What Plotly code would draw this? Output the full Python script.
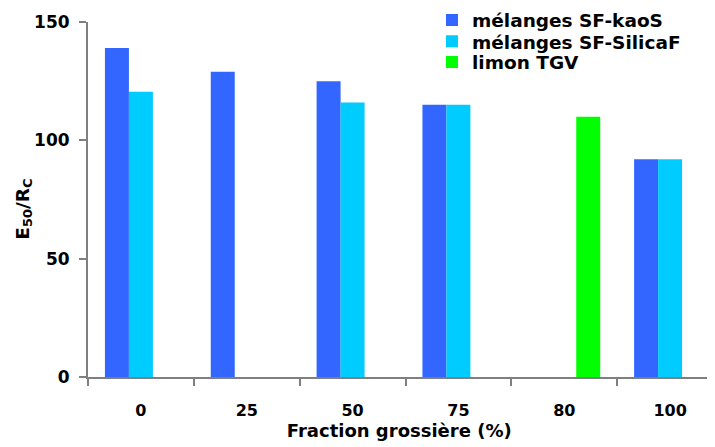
import plotly.graph_objects as go

categories = ["0", "25", "50", "75", "80", "100"]
kaos_values = [139, 129, 125, 115, None, 92]
silicaf_values = [120.5, None, 116, 115, None, 92]
tgv_values = [None, None, None, None, 110, None]
y_ticks = [0, 50, 100, 150]

FONT = "DejaVu Sans"
AXIS_COLOR = "#7f7f7f"
LEG_FONT = dict(family=FONT, size=18.5, color="black", weight="bold")
NB = "\u00a0"
ZW = "\u200b"

fig = go.Figure()
fig.add_trace(go.Bar(x=categories, y=kaos_values, name="mélanges SF-kaoS",
                     marker=dict(color="#3366FF", line=dict(width=0)), legend="legend"))
fig.add_trace(go.Bar(x=categories, y=silicaf_values, name="mélanges SF-SilicaF",
                     marker=dict(color="#00CCFF", line=dict(width=0)), legend="legend2"))
fig.add_trace(go.Bar(x=categories, y=tgv_values, name="limon TGV",
                     marker=dict(color="#00FF00", line=dict(width=0)), legend="legend3"))

# page body adds an 8px offset; plot area: x 88..723, y 22..377 on screen
def leg(yc):
    return dict(x=0.5417, y=(377 - yc) / 355, xanchor="left", yanchor="middle",
                font=LEG_FONT, bgcolor="rgba(0,0,0,0)", itemwidth=30)

fig.update_layout(
    width=715, height=447,
    margin=dict(l=80, r=0, t=14, b=78, autoexpand=False),
    paper_bgcolor="white", plot_bgcolor="white",
    barmode="group", bargap=0.32, bargroupgap=0,
    font=dict(family=FONT, color="black", size=17),
    showlegend=True,
    legend=leg(20.5), legend2=leg(41.8), legend3=leg(62.5),
)
fig.update_xaxes(
    type="category", categoryorder="array", categoryarray=categories,
    range=[-0.5, 5.5],
    showline=True, linecolor=AXIS_COLOR, linewidth=2,
    ticks="outside", tickson="boundaries", ticklen=7, tickcolor=AXIS_COLOR, tickwidth=1.5,
    tickfont=dict(family=FONT, size=16, color="black", weight="bold"),
    ticklabelstandoff=18,
    showgrid=False, zeroline=False,
    title=dict(text="Fraction grossière (%)" + NB * 2 + ZW,
               font=dict(family=FONT, size=18, color="black", weight="bold"),
               standoff=3),
)
fig.update_yaxes(
    range=[0, 150], tickvals=y_ticks,
    showline=True, linecolor=AXIS_COLOR, linewidth=2,
    ticks="outside", ticklen=7, tickcolor=AXIS_COLOR, tickwidth=1.5,
    tickfont=dict(family=FONT, size=17, color="black", weight="bold"),
    ticklabelstandoff=6,
    showgrid=False, zeroline=False,
    title=dict(text="E<sub>50</sub>/R<sub>C</sub>" + NB * 3 + ZW,
               font=dict(family=FONT, size=18.5, color="black", weight="bold"),
               standoff=0),
)

fig.write_html("out.html")
